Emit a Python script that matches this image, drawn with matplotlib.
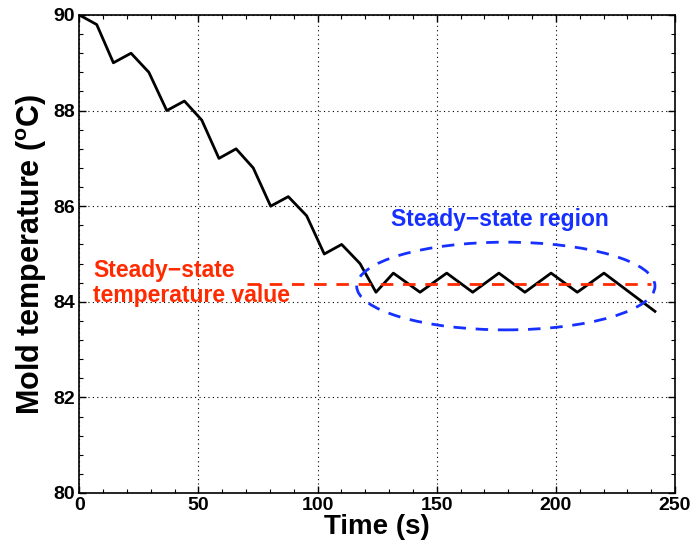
import matplotlib
matplotlib.use("Agg")
import matplotlib.pyplot as plt
from matplotlib.patches import Ellipse
from matplotlib.ticker import MultipleLocator

plt.rcParams['font.family'] = ['Liberation Sans', 'DejaVu Sans']
plt.rcParams['mathtext.default'] = 'regular'

time_s = [0, 7.3, 14.3, 21.7, 29.2, 36.7, 44.1, 51.4, 58.6, 65.8, 73.0, 80.3,
          87.7, 95.4, 102.8, 110.1, 117.8, 124.5, 131.8, 143.0, 154.2, 165.1,
          176.1, 187.0, 198.0, 209.0, 220.2, 241.6]
temp_c = [90.0, 89.8, 89.0, 89.2, 88.8, 88.0, 88.2, 87.8, 87.0, 87.2, 86.8, 86.0,
          86.2, 85.8, 85.0, 85.2, 84.8, 84.2, 84.6, 84.2, 84.6, 84.2,
          84.6, 84.2, 84.6, 84.2, 84.6, 83.8]

steady_value = 84.38
steady_x = [70.2, 240.0]
region_center = (179.0, 84.33)
region_width = 125.2
region_height = 1.835

fig = plt.figure(figsize=(6.94, 5.53), dpi=100)
ax = fig.add_axes([0.1143, 0.1085, 0.9726 - 0.1143, 0.9729 - 0.1085])

ax.plot(time_s, temp_c, color='black', lw=2.0, zorder=3)
ax.plot(steady_x, [steady_value, steady_value], color='#ff2a00', lw=2.0,
        dashes=(4.5, 3.5), zorder=4)
ell = Ellipse(region_center, region_width, region_height, fill=False,
              edgecolor='#1530ff', lw=2.0, linestyle=(0, (4.5, 3.5)), zorder=4)
ax.add_patch(ell)

ax.text(176.5, 85.72, 'Steady\u2212state region', color='#1530ff', fontsize=16.5,
        fontweight='bold', ha='center', va='center')
ax.text(5.8, 84.0, 'Steady\u2212state\ntemperature value', color='#ff2a00',
        fontsize=16.5, fontweight='bold', ha='left', va='baseline',
        linespacing=1.12)

ax.set_xlim(0, 250)
ax.set_ylim(80, 90)
ax.xaxis.set_major_locator(MultipleLocator(50))
ax.xaxis.set_minor_locator(MultipleLocator(10))
ax.yaxis.set_major_locator(MultipleLocator(2))
ax.yaxis.set_minor_locator(MultipleLocator(0.4))
ax.tick_params(which='both', direction='in', top=True, right=True)
ax.tick_params(which='major', length=5, width=1, labelsize=14, pad=3)
ax.tick_params(which='minor', length=3, width=0.8)
for lab in ax.get_xticklabels() + ax.get_yticklabels():
    lab.set_fontweight('bold')
ax.grid(True, which='major', linestyle=(0, (1, 3)), color='black', lw=0.8)
for sp in ax.spines.values():
    sp.set_linewidth(1.2)

ax.set_xlabel('Time (s)', fontsize=20, fontweight='bold', labelpad=0)
ax.set_ylabel('Mold temperature ($^{o}$C)', fontsize=22, fontweight='bold',
              labelpad=3)

fig.savefig('out.png', dpi=100)
